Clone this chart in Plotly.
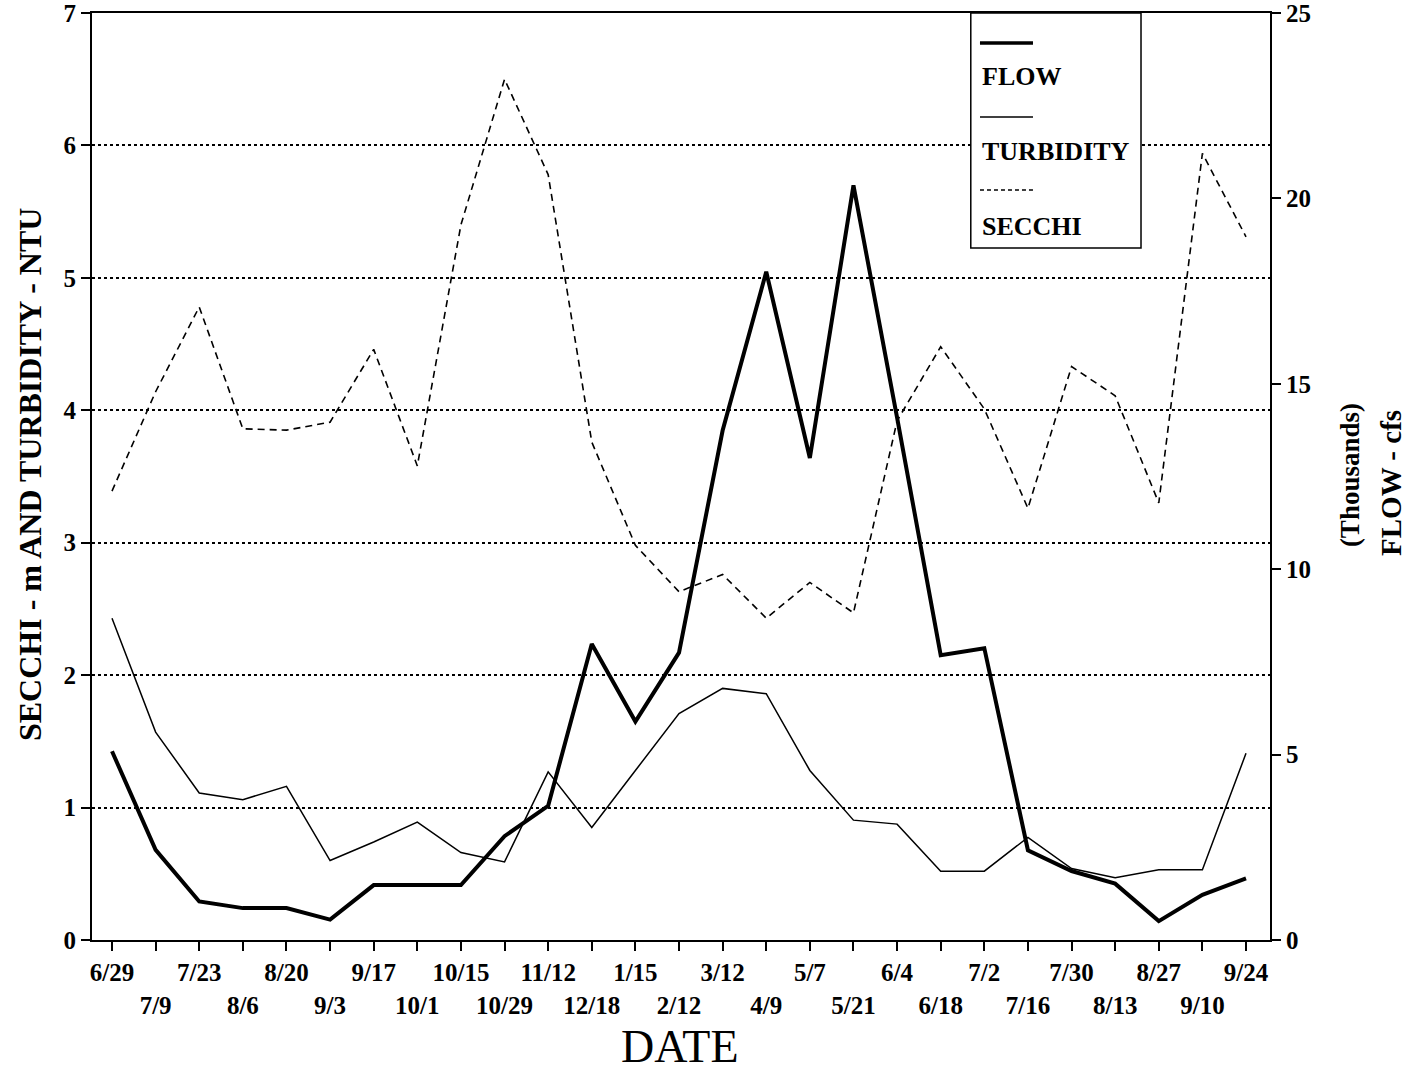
import plotly.graph_objects as go

# Sampling dates (two-week survey, June through the following September)
dates = ["6/29", "7/9", "7/23", "8/6", "8/20", "9/3", "9/17", "10/1", "10/15",
         "10/29", "11/12", "12/18", "1/15", "2/12", "3/12", "4/9", "5/7", "5/21",
         "6/4", "6/18", "7/2", "7/16", "7/30", "8/13", "8/27", "9/10", "9/24"]

# Flow, thousands of cfs (right axis)
flow = [5.09, 2.43, 1.04, 0.86, 0.86, 0.55, 1.48, 1.48, 1.48, 2.80, 3.62, 7.98,
        5.89, 7.75, 13.74, 18.02, 13.0, 20.35, 14.09, 7.68, 7.87, 2.42, 1.86,
        1.52, 0.51, 1.22, 1.66]

# Turbidity, NTU (left axis)
turbidity = [2.43, 1.57, 1.11, 1.06, 1.16, 0.60, 0.74, 0.89, 0.66, 0.59, 1.27,
             0.85, 1.28, 1.71, 1.90, 1.86, 1.28, 0.905, 0.875, 0.52, 0.52, 0.775,
             0.54, 0.47, 0.53, 0.53, 1.41]

# Secchi depth, m (left axis)
secchi = [3.39, 4.14, 4.78, 3.86, 3.85, 3.91, 4.46, 3.58, 5.40, 6.50, 5.78, 3.76,
          2.98, 2.63, 2.76, 2.43, 2.70, 2.47, 3.92, 4.48, 4.01, 3.26, 4.33, 4.11,
          3.30, 5.94, 5.31]

left_ticks = [0, 1, 2, 3, 4, 5, 6, 7]
right_ticks = [0, 5, 10, 15, 20, 25]

xs = list(range(len(dates)))
# alternate the date labels over two rows
tick_text = [d if i % 2 == 0 else "<br>" + d for i, d in enumerate(dates)]

SERIF = "Liberation Serif, Times New Roman, serif"
BLACK = "#000000"

fig = go.Figure()

fig.add_trace(go.Scatter(x=xs, y=secchi, mode="lines", name="SECCHI",
                         line=dict(color=BLACK, width=1.6, dash="7px,5px"),
                         showlegend=False))
fig.add_trace(go.Scatter(x=xs, y=turbidity, mode="lines", name="TURBIDITY",
                         line=dict(color=BLACK, width=1.5),
                         showlegend=False))
fig.add_trace(go.Scatter(x=xs, y=flow, mode="lines", name="FLOW", yaxis="y2",
                         line=dict(color=BLACK, width=4),
                         showlegend=False))

tick_font = dict(family=SERIF, size=25, color=BLACK, weight="bold")

fig.update_layout(
    width=1411, height=1074,
    margin=dict(l=92, r=141, t=13, b=134),
    paper_bgcolor="white", plot_bgcolor="white",
    xaxis=dict(
        range=[-0.4586, 26.55],
        tickmode="array", tickvals=xs, ticktext=tick_text,
        ticks="outside", ticklen=9, tickwidth=1.5, tickcolor=BLACK,
        showline=True, linecolor=BLACK, linewidth=2, mirror=True,
        showgrid=False, zeroline=False, automargin=False,
        tickfont=tick_font, tickangle=0,
    ),
    yaxis=dict(
        range=[0, 7], tickmode="array", tickvals=left_ticks,
        ticks="outside", ticklen=9, tickwidth=1.5, tickcolor=BLACK,
        showline=True, linecolor=BLACK, linewidth=2,
        showgrid=True, gridcolor=BLACK, gridwidth=1.5, griddash="dot",
        zeroline=False, automargin=False, tickfont=tick_font,
        ticklabeloverflow="allow",
    ),
    yaxis2=dict(
        range=[0, 25], tickmode="array", tickvals=right_ticks,
        overlaying="y", side="right",
        ticks="outside", ticklen=9, tickwidth=1.5, tickcolor=BLACK,
        showline=True, linecolor=BLACK, linewidth=2,
        showgrid=False, zeroline=False, automargin=False, tickfont=tick_font,
        ticklabeloverflow="allow",
    ),
)

# Legend box: sample line drawn above each label
legend_items = [
    ("FLOW", dict(color=BLACK, width=3.5), 0.9676, 0.9320),
    ("TURBIDITY", dict(color=BLACK, width=1.5), 0.8878, 0.8511),
    ("SECCHI", dict(color=BLACK, width=1.5, dash="4px,3px"), 0.8090, 0.7702),
]
fig.add_shape(type="rect", xref="paper", yref="paper",
              x0=0.746, x1=0.8905, y0=0.7465, y1=1.0,
              line=dict(color=BLACK, width=1.5), fillcolor="white", layer="above")
for label, lstyle, ly, ty in legend_items:
    fig.add_shape(type="line", xref="paper", yref="paper",
                  x0=0.7538, x1=0.7988, y0=ly, y1=ly, line=lstyle, layer="above")
    fig.add_annotation(text=label, xref="paper", yref="paper", x=0.7538, y=ty,
                       xanchor="left", yanchor="middle", showarrow=False,
                       font=dict(family=SERIF, size=26, color=BLACK, weight="bold"))

# Axis titles
fig.add_annotation(text="SECCHI - m AND TURBIDITY - NTU", xref="paper", yref="paper",
                   x=-0.0526, y=0.5016, xanchor="center", yanchor="middle",
                   textangle=-90, showarrow=False,
                   font=dict(family=SERIF, size=32, color=BLACK, weight="bold"))
fig.add_annotation(text="(Thousands)", xref="paper", yref="paper",
                   x=1.068, y=0.5016, xanchor="center", yanchor="middle",
                   textangle=-90, showarrow=False,
                   font=dict(family=SERIF, size=27, color=BLACK, weight="bold"))
fig.add_annotation(text="FLOW - cfs", xref="paper", yref="paper",
                   x=1.1027, y=0.493, xanchor="center", yanchor="middle",
                   textangle=-90, showarrow=False,
                   font=dict(family=SERIF, size=29, color=BLACK, weight="bold"))
fig.add_annotation(text="DATE", xref="paper", yref="paper",
                   x=0.499, y=-0.1435, xanchor="center", yanchor="bottom",
                   showarrow=False, borderpad=0,
                   font=dict(family=SERIF, size=46, color=BLACK))

fig.write_html("out.html")
